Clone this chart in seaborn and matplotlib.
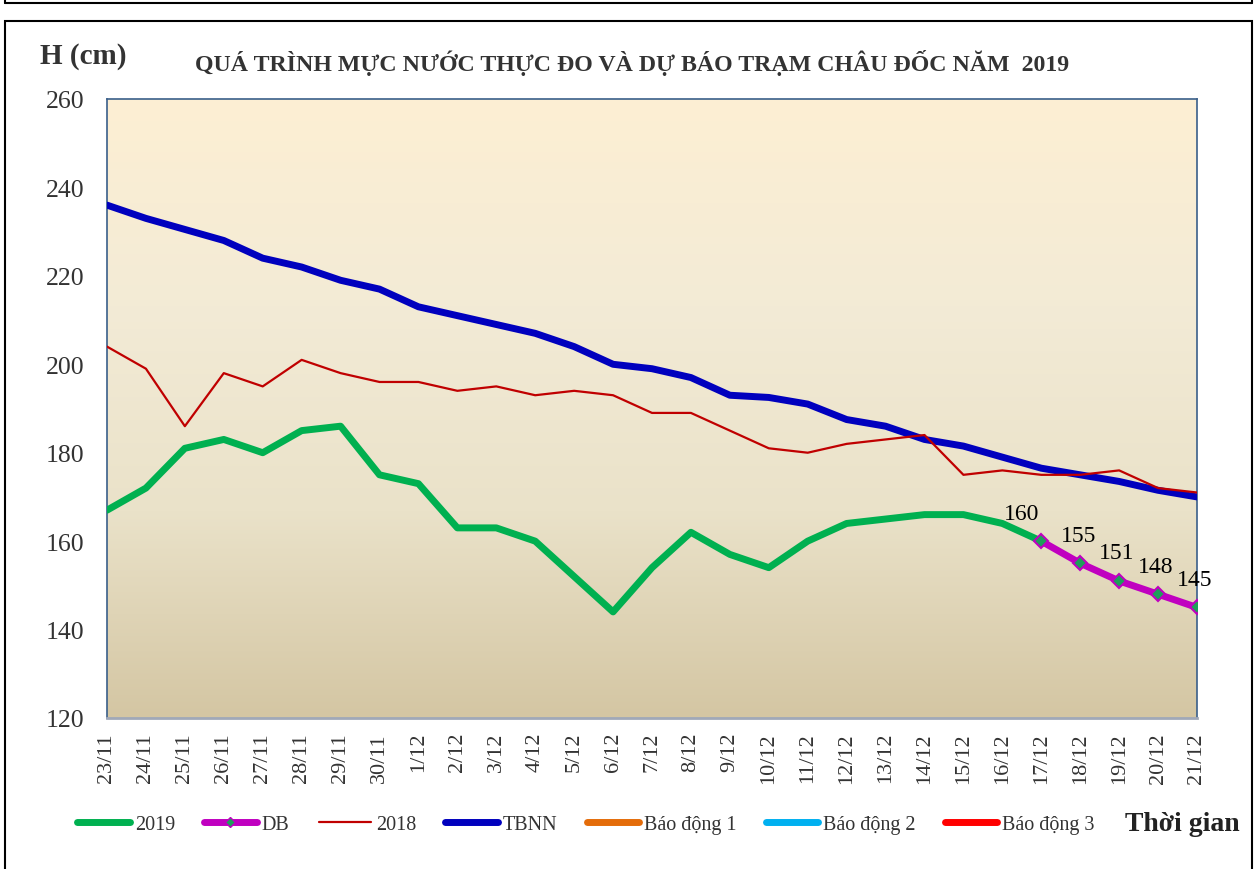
import numpy as np
import pandas as pd
import matplotlib
matplotlib.use("Agg")
import matplotlib.pyplot as plt
import seaborn as sns
from matplotlib.lines import Line2D
from matplotlib.colors import LinearSegmentedColormap

# ---------------- data ----------------
dates = ["23/11", "24/11", "25/11", "26/11", "27/11", "28/11", "29/11", "30/11",
         "1/12", "2/12", "3/12", "4/12", "5/12", "6/12", "7/12", "8/12", "9/12",
         "10/12", "11/12", "12/12", "13/12", "14/12", "15/12", "16/12", "17/12",
         "18/12", "19/12", "20/12", "21/12"]

# observed 2019 (up to 17/12)
h_2019 = [167, 172, 181, 183, 180, 185, 186, 175, 173, 163, 163, 160, 152, 144,
          154, 162, 157, 154, 160, 164, 165, 166, 166, 164, 160]
# forecast (DB) 17/12 -> 21/12
h_db = [160, 155, 151, 148, 145]
h_2018 = [204, 199, 186, 198, 195, 201, 198, 196, 196, 194, 195, 193, 194, 193,
          189, 189, 185, 181, 180, 182, 183, 184, 175, 176, 175, 175, 176, 172, 171]
h_tbnn = [236, 233, 230.5, 228, 224, 222, 219, 217, 213, 211, 209, 207, 204, 200,
          199, 197, 193, 192.5, 191, 187.5, 186, 183, 181.5, 179, 176.5, 175, 173.5,
          171.5, 170]

x_all = np.arange(len(dates))
df_2019 = pd.DataFrame({"x": x_all[:len(h_2019)], "h": h_2019})
df_db = pd.DataFrame({"x": x_all[len(h_2019) - 1:], "h": h_db})
df_2018 = pd.DataFrame({"x": x_all, "h": h_2018})
df_tbnn = pd.DataFrame({"x": x_all, "h": h_tbnn})

# ---------------- style ----------------
sns.set_theme(style="white")
plt.rcParams['font.family'] = ['Liberation Serif', 'DejaVu Serif']

c_2019 = "#00B050"
c_db = "#C000C0"
c_2018 = "#C00000"
c_tbnn = "#0000BE"

fig = plt.figure(figsize=(12.59, 8.70), dpi=100)
ax = fig.add_axes([107 / 1259, 1 - 719 / 870, 1090 / 1259, 619 / 870])

# gradient plot area
bg = LinearSegmentedColormap.from_list("bg", ["#D4C6A3", "#EAE2C9", "#F3EBD6", "#FDEFD3"])
grad = np.linspace(0, 1, 256).reshape(-1, 1)
ax.imshow(grad, extent=[0, 1, 0, 1], transform=ax.transAxes, origin="lower",
          aspect="auto", cmap=bg, zorder=0)

sns.lineplot(data=df_tbnn, x="x", y="h", ax=ax, color=c_tbnn, lw=5, zorder=3)
sns.lineplot(data=df_2018, x="x", y="h", ax=ax, color=c_2018, lw=1.6, zorder=4)
sns.lineplot(data=df_2019, x="x", y="h", ax=ax, color=c_2019, lw=5, zorder=5)
sns.lineplot(data=df_db, x="x", y="h", ax=ax, color=c_db, lw=5, zorder=6,
             marker="D", markersize=7, markerfacecolor="#1E9E5A",
             markeredgecolor=c_db, markeredgewidth=1.5)

for i, (xv, hv) in enumerate(zip(df_db["x"], df_db["h"])):
    dx = -20 if i == 0 else -2
    ax.annotate(str(hv), (xv, hv), xytext=(dx, 28), textcoords="offset pixels",
                ha="center", va="center", fontsize=17, color="black", zorder=7)

ax.set_xlim(0, len(dates) - 1)
ax.set_ylim(120, 260)
ax.set_yticks(np.arange(120, 261, 20))
ax.set_xticks(x_all)
ax.set_xticklabels(dates, rotation=90, fontsize=16)
ax.tick_params(axis="y", labelsize=18.5, pad=16, length=0, labelcolor="#333333")
ax.tick_params(axis="x", pad=10, length=0, labelcolor="#333333")
ax.set_xlabel("")
ax.set_ylabel("")
for s in ax.spines.values():
    s.set_color("#3A5F8A")
    s.set_linewidth(1.2)
ax.spines["bottom"].set_color("#A0A8B8")
ax.spines["bottom"].set_linewidth(2)

# titles
fig.text(40 / 1259, 1 - 57 / 870, "H (cm)", fontsize=21, fontweight="bold",
         ha="left", va="center", color="#333333")
fig.text(632 / 1259, 1 - 63 / 870,
         "QUÁ TRÌNH MỰC NƯỚC THỰC ĐO VÀ DỰ BÁO TRẠM CHÂU ĐỐC NĂM  2019",
         fontsize=17.2, fontweight="bold", ha="center", va="center", color="#333333")
fig.text(1125 / 1259, 1 - 825 / 870, "Thời gian", fontsize=20, fontweight="bold",
         ha="left", va="center", color="#222222")

# legend
handles = [
    Line2D([], [], color=c_2019, lw=5),
    Line2D([], [], color=c_db, lw=5, marker="D", markersize=5,
           markerfacecolor="#1E9E5A", markeredgecolor=c_db),
    Line2D([], [], color=c_2018, lw=1.6),
    Line2D([], [], color=c_tbnn, lw=5),
    Line2D([], [], color="#E46C0A", lw=5),
    Line2D([], [], color="#00B0F0", lw=5),
    Line2D([], [], color="#FF0000", lw=5),
]
labels = ["2019", "DB", "2018", "TBNN", "Báo động 1", "Báo động 2", "Báo động 3"]
fig.legend(handles, labels, loc="center", bbox_to_anchor=(586 / 1259, 1 - 825 / 870),
           ncol=7, frameon=False, fontsize=14.5, handlelength=2.6, columnspacing=1.45,
           handletextpad=0.25, labelcolor="#333333")

# outer frames
fig.add_artist(plt.Rectangle((5 / 1259, -0.01), 1247 / 1259, (870 - 22) / 870 + 0.01,
                             transform=fig.transFigure, fill=False, lw=1.5,
                             edgecolor="black"))
fig.add_artist(Line2D([5 / 1259, 1252 / 1259], [1 - 4 / 870, 1 - 4 / 870],
                      transform=fig.transFigure, color="black", lw=1.5))
fig.add_artist(Line2D([5 / 1259, 5 / 1259], [1 - 4 / 870, 1], transform=fig.transFigure,
                      color="black", lw=1.5))
fig.add_artist(Line2D([1252 / 1259, 1252 / 1259], [1 - 4 / 870, 1],
                      transform=fig.transFigure, color="black", lw=1.5))

fig.savefig("out.png", dpi=100)
